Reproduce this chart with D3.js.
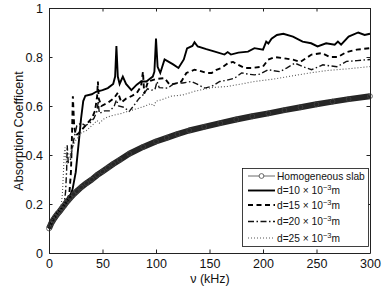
<!DOCTYPE html>
<html>
<head>
<meta charset="utf-8">
<script src="https://cdn.jsdelivr.net/npm/d3@7"></script>
<style>
	body { margin: 0; background: #fff; }
	svg { display: block; font-family: "Liberation Sans", Arial, sans-serif; }
</style>
</head>
<body>
<div id="chart"></div>
<script>
// [frequency (kHz), absorption coefficient]
var homogeneous = [[0,0.10],[2,0.12],[4,0.135],[6,0.148],[8,0.16],[10,0.17],[12,0.182],[14,0.193],
	[16,0.205],[18,0.215],[20,0.225],[23,0.24],[26,0.252],[30,0.268],[35,0.285],[40,0.30],[45,0.318],
	[50,0.333],[55,0.348],[60,0.363],[66,0.38],[75,0.405],[88,0.433],[100,0.455],[110,0.47],[120,0.485],
	[131,0.50],[145,0.515],[160,0.53],[175,0.545],[190,0.558],[205,0.57],[220,0.583],[235,0.595],
	[250,0.607],[265,0.618],[280,0.628],[300,0.64]];

var d10 = [[0,0.10],[4,0.14],[8,0.165],[12,0.185],[16,0.205],[19,0.225],[22,0.26],[25,0.33],[28,0.46],
	[30,0.55],[32,0.62],[34,0.642],[40,0.648],[44,0.658],[50,0.665],[55,0.673],[60,0.69],[61.8,0.72],
	[63,0.845],[64.3,0.72],[66,0.69],[69,0.72],[72,0.69],[77,0.665],[82,0.687],[86,0.70],[91,0.70],
	[94,0.71],[97,0.72],[98.5,0.74],[100,0.875],[101.5,0.76],[104,0.735],[108,0.79],[112,0.78],
	[116,0.77],[121,0.755],[126,0.79],[129,0.835],[134,0.845],[136,0.86],[139,0.843],[147,0.832],
	[155,0.822],[164,0.81],[167,0.82],[170,0.81],[177,0.818],[186,0.822],[192,0.836],[200,0.83],
	[203,0.863],[205,0.855],[208,0.875],[213,0.89],[219,0.895],[228,0.883],[237,0.863],[245,0.856],
	[251,0.843],[259,0.856],[267,0.85],[270,0.863],[273,0.85],[280,0.883],[289,0.9],[295,0.89],[300,0.895]];

var d15 = [[0,0.10],[4,0.14],[8,0.165],[12,0.185],[16,0.205],[19,0.24],[20.5,0.33],[21.5,0.48],
	[22.3,0.64],[23.5,0.52],[25,0.48],[28,0.49],[32,0.51],[36,0.53],[40,0.55],[43,0.58],[45,0.64],
	[45.7,0.70],[46.5,0.63],[49,0.60],[55,0.613],[61,0.633],[64.4,0.655],[67.6,0.615],[72,0.63],
	[77,0.64],[82,0.653],[86,0.68],[87.8,0.74],[89,0.65],[92.5,0.70],[100,0.71],[108,0.714],
	[112.8,0.687],[117,0.69],[123.7,0.70],[128.4,0.735],[136,0.748],[140,0.745],[147,0.735],
	[152,0.735],[156.5,0.748],[161,0.755],[167.4,0.775],[172,0.78],[176.7,0.768],[183,0.755],
	[189,0.755],[200,0.761],[204.8,0.789],[211,0.80],[219,0.795],[228,0.789],[235,0.78],[245.4,0.81],
	[255,0.816],[262.6,0.80],[270,0.80],[278,0.82],[287.6,0.83],[300,0.836]];

var d20 = [[0,0.10],[4,0.14],[8,0.165],[12,0.185],[14,0.195],[15.5,0.25],[16.5,0.34],[17,0.44],
	[18,0.37],[20,0.38],[23,0.46],[26,0.52],[30,0.53],[34,0.52],[38,0.53],[42,0.55],[45,0.58],[46,0.62],
	[47,0.57],[52,0.58],[57,0.58],[61,0.60],[63,0.625],[65,0.60],[70,0.595],[75,0.578],[80,0.606],
	[84,0.63],[88,0.646],[92,0.67],[96,0.665],[99,0.667],[101,0.70],[103,0.675],[111,0.673],
	[117.5,0.694],[125,0.694],[133,0.70],[138,0.69],[145.5,0.673],[152,0.68],[159.6,0.70],[166,0.705],
	[173.6,0.714],[180,0.735],[186,0.73],[192,0.727],[197,0.73],[204.8,0.748],[215.7,0.74],[222,0.755],
	[229.8,0.775],[237.6,0.76],[245.4,0.748],[256,0.768],[269,0.76],[278,0.782],[288,0.785],[300,0.79]];

var d25 = [[0,0.10],[4,0.14],[8,0.165],[11,0.18],[12.5,0.24],[13.5,0.33],[14.3,0.41],[15,0.43],
	[16,0.37],[18,0.38],[21,0.42],[25,0.46],[30,0.49],[35,0.50],[40,0.52],[45,0.54],[47,0.53],[52,0.55],
	[58,0.56],[63,0.565],[68,0.57],[75,0.58],[83,0.59],[90,0.60],[95,0.61],[98,0.60],[100,0.62],
	[105,0.625],[114,0.64],[125,0.645],[136,0.66],[152,0.675],[167,0.68],[180,0.69],[192,0.70],
	[210,0.71],[230,0.725],[244,0.735],[260,0.745],[280,0.752],[300,0.761]];

var thickness = [10, 15, 20, 25];
var xTicks = [0, 50, 100, 150, 200, 250, 300];
var yTicks = [0, 0.2, 0.4, 0.6, 0.8, 1];
var yTickLabels = ["0", "0.2", "0.4", "0.6", "0.8", "1"];

var width = 382, height = 287;
var svg = d3.select("#chart").append("svg")
	.attr("width", width)
	.attr("height", height);

var x = d3.scaleLinear().domain([0, 300]).range([49, 370]);
var y = d3.scaleLinear().domain([0, 1]).range([253, 8]);

// line styles for the four slab thicknesses
var styles = [
	{ dash: null, w: 1.9, c: "#000" },
	{ dash: "5,3.5", w: 1.9, c: "#000" },
	{ dash: "6,2.5,1.5,2.5", w: 1.4, c: "#111" },
	{ dash: "1,2", w: 1.1, c: "#555" }
];

var line = d3.line()
	.x(function (d) { return x(d[0]); })
	.y(function (d) { return y(d[1]); });

var plot = svg.append("g");

// homogeneous slab: dense circle markers form a thick dark band
plot.append("path")
	.datum(homogeneous)
	.attr("d", line)
	.attr("fill", "none")
	.attr("stroke", "#262626")
	.attr("stroke-width", 6)
	.attr("stroke-linejoin", "round");

var layered = [d10, d15, d20, d25];
plot.selectAll("path.layer")
	.data(layered)
	.enter()
	.append("path")
	.attr("class", "layer")
	.attr("d", line)
	.attr("fill", "none")
	.attr("stroke", function (d, i) { return styles[i].c; })
	.attr("stroke-width", function (d, i) { return styles[i].w; })
	.attr("stroke-dasharray", function (d, i) { return styles[i].dash; });

plot.selectAll("circle.mk")
	.data(homogeneous)
	.enter()
	.append("circle")
	.attr("class", "mk")
	.attr("cx", function (d) { return x(d[0]); })
	.attr("cy", function (d) { return y(d[1]); })
	.attr("r", 2.4)
	.attr("fill", "none")
	.attr("stroke", "#444")
	.attr("stroke-width", 0.8);

// axes: ticks point inward on all four sides
function styleAxis(g) {
	g.select(".domain").attr("stroke", "#222");
	g.selectAll(".tick line").attr("stroke", "#222");
	g.selectAll(".tick text").attr("fill", "#111").attr("font-size", 12.5)
		.attr("font-family", "Liberation Sans, Arial, sans-serif");
}

svg.append("g")
	.attr("transform", "translate(0,253)")
	.call(d3.axisBottom(x).tickValues(xTicks).tickSizeInner(-3.5).tickSizeOuter(0).tickPadding(6))
	.call(styleAxis);

svg.append("g")
	.attr("transform", "translate(0,8)")
	.call(d3.axisTop(x).tickValues(xTicks).tickSizeInner(-3.5).tickSizeOuter(0).tickFormat(""))
	.call(styleAxis);

svg.append("g")
	.attr("transform", "translate(49,0)")
	.call(d3.axisLeft(y).tickValues(yTicks).tickSizeInner(-3.5).tickSizeOuter(0).tickPadding(6)
		.tickFormat(function (d, i) { return yTickLabels[i]; }))
	.call(styleAxis);

svg.append("g")
	.attr("transform", "translate(370,0)")
	.call(d3.axisRight(y).tickValues(yTicks).tickSizeInner(-3.5).tickSizeOuter(0).tickFormat(""))
	.call(styleAxis);

// axis titles
svg.append("text")
	.attr("x", 210)
	.attr("y", 282.5)
	.attr("text-anchor", "middle")
	.attr("font-size", 12.5)
	.attr("fill", "#111")
	.text("ν (kHz)");

svg.append("text")
	.attr("transform", "translate(23,131) rotate(-90)")
	.attr("text-anchor", "middle")
	.attr("font-size", 12.5)
	.attr("fill", "#111")
	.text("Absorption Coefficent");

// legend
var legendRowY = [176, 190.5, 205, 221.5, 238];
var legend = svg.append("g");

legend.append("rect")
	.attr("x", 242.5)
	.attr("y", 168.5)
	.attr("width", 126)
	.attr("height", 78)
	.attr("fill", "#fff")
	.attr("stroke", "#111")
	.attr("stroke-width", 0.8);

legend.append("line")
	.attr("x1", 248).attr("x2", 275)
	.attr("y1", legendRowY[0]).attr("y2", legendRowY[0])
	.attr("stroke", "#444").attr("stroke-width", 0.8);
legend.append("circle")
	.attr("cx", 261.5).attr("cy", legendRowY[0]).attr("r", 2.4)
	.attr("fill", "#fff").attr("stroke", "#444").attr("stroke-width", 0.8);
legend.append("text")
	.attr("x", 277).attr("y", legendRowY[0]).attr("dy", "0.35em")
	.attr("font-size", 10.2).attr("fill", "#111")
	.text("Homogeneous slab");

thickness.forEach(function (t, i) {
	var yy = legendRowY[i + 1];
	legend.append("line")
		.attr("x1", 248).attr("x2", 275)
		.attr("y1", yy).attr("y2", yy)
		.attr("stroke", styles[i].c)
		.attr("stroke-width", styles[i].w)
		.attr("stroke-dasharray", styles[i].dash);
	var txt = legend.append("text")
		.attr("x", 277).attr("y", yy).attr("dy", "0.35em")
		.attr("font-size", 10.2).attr("fill", "#111");
	txt.append("tspan").text("d=" + t + " × 10");
	txt.append("tspan").attr("dy", -4).attr("font-size", 7.5).text("−3");
	txt.append("tspan").attr("dy", 4).text("m");
});
</script>
</body>
</html>
